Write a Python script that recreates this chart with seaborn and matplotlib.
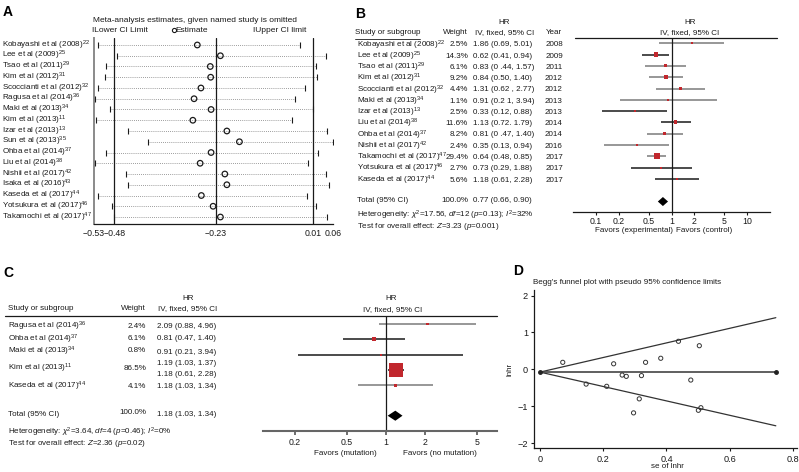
import numpy as np
import matplotlib
matplotlib.use('Agg')
import matplotlib.pyplot as plt
import seaborn as sns
from matplotlib.lines import Line2D
from matplotlib.transforms import blended_transform_factory

# ---- style ----
sns.set_theme(style='white')
plt.rcParams['font.family'] = ['Liberation Sans', 'DejaVu Sans']
plt.rcParams['mathtext.fontset'] = 'custom'
plt.rcParams['mathtext.rm'] = 'Liberation Sans'
plt.rcParams['mathtext.it'] = 'Liberation Sans:italic'
plt.rcParams['mathtext.bf'] = 'Liberation Sans:bold'

# =========================================
# Data
# =========================================

# A - influence analysis (study omitted)
a_studies = ['Kobayashi et al (2008)', 'Lee et al (2009)', 'Tsao et al (2011)', 'Kim et al (2012)',
             'Scoccianti et al (2012)', 'Ragusa et al (2014)', 'Maki et al (2013)', 'Kim et al (2013)',
             'Izar et al (2013)', 'Sun et al (2013)', 'Ohba et al (2014)', 'Liu et al (2014)',
             'Nishii et al (2017)', 'Isaka et al (2016)', 'Kaseda et al (2017)', 'Yotsukura et al (2017)',
             'Takamochi et al (2017)']
a_refs = [22, 25, 29, 31, 32, 36, 34, 11, 13, 35, 37, 38, 42, 43, 44, 46, 47]
a_lower = [-0.520, -0.474, -0.500, -0.504, -0.521, -0.528, -0.490, -0.524, -0.447, -0.397,
           -0.500, -0.528, -0.451, -0.445, -0.519, -0.486, -0.480]
a_est = [-0.275, -0.218, -0.243, -0.242, -0.266, -0.283, -0.241, -0.286, -0.202, -0.171,
         -0.241, -0.268, -0.207, -0.202, -0.265, -0.236, -0.218]
a_upper = [-0.022, 0.043, 0.018, 0.021, -0.009, -0.033, 0.011, -0.042, 0.044, 0.059,
           0.022, -0.002, 0.043, 0.049, -0.005, 0.019, 0.045]
a_ticks = [-0.53, -0.48, -0.23, 0.01, 0.06]

# B - overall forest plot
b_studies = ['Kobayashi et al (2008)', 'Lee et al (2009)', 'Tsao et al (2011)', 'Kim et al (2012)',
             'Scoccianti et al (2012)', 'Maki et al (2013)', 'Izar et al (2013)', 'Liu et al (2014)',
             'Ohba et al (2014)', 'Nishii et al (2017)', 'Takamochi et al (2017)',
             'Yotsukura et al (2017)', 'Kaseda et al (2017)']
b_refs = [22, 25, 29, 31, 32, 34, 13, 38, 37, 42, 47, 46, 44]
b_weight = [2.5, 14.3, 6.1, 9.2, 4.4, 1.1, 2.5, 11.6, 8.2, 2.4, 29.4, 2.7, 5.6]
b_hr = [1.86, 0.62, 0.83, 0.84, 1.31, 0.91, 0.33, 1.13, 0.81, 0.35, 0.64, 0.73, 1.18]
b_lo = [0.69, 0.41, 0.44, 0.50, 0.62, 0.21, 0.12, 0.72, 0.47, 0.13, 0.48, 0.29, 0.61]
b_hi = [5.01, 0.94, 1.57, 1.40, 2.77, 3.94, 0.88, 1.79, 1.40, 0.94, 0.85, 1.88, 2.28]
b_ci_text = ['1.86 (0.69, 5.01)', '0.62 (0.41, 0.94)', '0.83 (0 .44, 1.57)', '0.84 (0.50, 1.40)',
             '1.31 (0.62 , 2.77)', '0.91 (0.2 1, 3.94)', '0.33 (0.12, 0.88)', '1.13 (0.72. 1.79)',
             '0.81 (0 .47, 1.40)', '0.35 (0.13, 0.94)', '0.64 (0.48, 0.85)', '0.73 (0.29, 1.88)',
             '1.18 (0.61, 2.28)']
b_year = [2008, 2009, 2011, 2012, 2012, 2013, 2013, 2014, 2014, 2016, 2017, 2017, 2017]
b_total = [0.77, 0.66, 0.90]
b_ticks = [0.1, 0.2, 0.5, 1, 2, 5, 10]

# C - mutation subgroup forest plot
c_studies = ['Ragusa et al (2014)', 'Ohba et al (2014)', 'Maki et al (2013)', 'Kim et al (2013)',
             'Kaseda et al (2017)']
c_refs = [36, 37, 34, 11, 44]
c_weight = [2.4, 6.1, 0.8, 86.5, 4.1]
c_hr = [2.09, 0.81, 0.91, 1.19, 1.18]
c_lo = [0.88, 0.47, 0.21, 1.03, 0.61]
c_hi = [4.96, 1.40, 3.94, 1.37, 2.28]
c_ci_text = ['2.09 (0.88, 4.96)', '0.81 (0.47, 1.40)', '0.91 (0.21, 3.94)', '1.19 (1.03, 1.37)',
             '1.18 (0.61, 2.28)', '1.18 (1.03, 1.34)']
c_total = [1.18, 1.03, 1.34]
c_ticks = [0.2, 0.5, 1, 2, 5]

# D - Begg's funnel plot
d_se = [0.072, 0.146, 0.211, 0.233, 0.260, 0.273, 0.296, 0.314, 0.321, 0.334,
        0.382, 0.438, 0.477, 0.504, 0.501, 0.509]
d_lnhr = [0.19, -0.40, -0.46, 0.15, -0.155, -0.19, -1.18, -0.80, -0.17, 0.19,
          0.30, 0.76, -0.29, 0.64, -1.11, -1.04]
d_line_se = [0.0, 0.746]
d_pooled = [-0.075, -0.075]
d_upper = [-0.075, 1.40]
d_lower = [-0.075, -1.53]

# =========================================
# Figure helpers (pixel layout)
# =========================================

W, H = 799, 472
fig = plt.figure(figsize=(W / 100, H / 100), dpi=100)

FS = 5.8
RED = '#c1272d'
GREY = '#7a7a7a'
DARK = '#1a1a1a'


def px_axes(l, t, r, b):
    return fig.add_axes([l / W, 1 - b / H, (r - l) / W, (b - t) / H])


def ftext(x, y, s, **kw):
    kw.setdefault('fontsize', FS)
    kw.setdefault('va', 'center')
    kw.setdefault('color', DARK)
    return fig.text(x / W, 1 - y / H, s, **kw)


def fline(x1, x2, y1, y2, **kw):
    fig.add_artist(Line2D([x1 / W, x2 / W], [1 - y1 / H, 1 - y2 / H],
                          transform=fig.transFigure, **kw))


def label(name, ref):
    return name + r'$^{' + str(ref) + '}$'


# =========================================
# A. Sensitivity analysis
# =========================================

ftext(3, 12, 'A', fontsize=10, fontweight='bold', color='black')
axA = px_axes(94, 38, 333, 224)
rows_a = np.arange(len(a_studies))

for i in rows_a:
    axA.plot([a_lower[i], a_upper[i]], [i, i], ls=(0, (1, 1.5)), lw=0.6, color='#7d7d7d')
axA.scatter(a_lower, rows_a, marker='|', s=18, color=DARK, linewidths=0.8, zorder=3)
axA.scatter(a_upper, rows_a, marker='|', s=18, color=DARK, linewidths=0.8, zorder=3)
sns.scatterplot(x=a_est, y=rows_a, ax=axA, marker='o', s=16, facecolors='none',
                edgecolors=DARK, linewidths=0.9, zorder=4)
for v in a_ticks[1:4]:
    axA.axvline(v, color=DARK, lw=0.9)

axA.set_xlim(-0.53, 0.06)
axA.set_ylim(len(a_studies) - 1 + 0.65, -0.65)
axA.set_xticks(a_ticks)
axA.set_xticklabels([f'{v:.2f}'.replace('-', '\u2212') for v in a_ticks], fontsize=FS + 0.5)
axA.set_yticks([])
axA.tick_params(axis='x', length=2, pad=1.5, colors=DARK)
for s in ['top', 'right']:
    axA.spines[s].set_visible(False)
axA.spines['left'].set_color('#8a8a8a')
axA.spines['left'].set_linewidth(1.4)
axA.spines['bottom'].set_color(DARK)
axA.spines['bottom'].set_linewidth(0.9)

trA = blended_transform_factory(fig.transFigure, axA.transData)
for i, (n, r) in enumerate(zip(a_studies, a_refs)):
    axA.text(2 / W, i, label(n, r), transform=trA, fontsize=FS, va='center', color=DARK)

ftext(93, 20, 'Meta-analysis estimates, given named study is omitted', fontsize=FS + 0.2)
ftext(92, 31, 'ILower CI Limit', fontsize=FS + 0.2)
axA.plot([173.5 / W], [1 - 29.5 / H], marker='o', ms=3, mfc='none', mec=DARK, mew=0.8,
         transform=fig.transFigure, clip_on=False)
ftext(175, 31, 'Estimate', fontsize=FS + 0.2)
ftext(253, 31, 'IUpper CI limit', fontsize=FS + 0.2)

# =========================================
# B. Overall forest plot
# =========================================

ftext(355, 14, 'B', fontsize=10, fontweight='bold', color='black')
b_rows = np.arange(len(b_studies))
b_total_row = len(b_studies) + 1
axB = px_axes(573, 38, 770, 211.7)
axB.set_xscale('log')
axB.set_xlim(0.05, 20)
axB.set_ylim(b_total_row + 0.9, -0.47)

b_line_col = [GREY, DARK, GREY, GREY, GREY, GREY, DARK, DARK, GREY, GREY, GREY, DARK, DARK]
for i in b_rows:
    axB.plot([b_lo[i], b_hi[i]], [i, i], color=b_line_col[i], lw=1.1, solid_capstyle='butt')
b_side = [max(2.0, 1.15 * np.sqrt(w)) * 0.72 for w in b_weight]
axB.scatter(b_hr, b_rows, marker='s', s=[v ** 2 for v in b_side], color=RED, linewidths=0, zorder=3)
axB.axvline(1, color=DARK, lw=0.9)
hr, lo, hi = b_total
axB.fill([lo, hr, hi, hr], [b_total_row, b_total_row - 0.4, b_total_row, b_total_row + 0.4],
         color='black', lw=0)

axB.set_xticks(b_ticks)
axB.set_xticklabels([f'{v:g}' for v in b_ticks], fontsize=FS + 0.5)
axB.minorticks_off()
axB.set_yticks([])
axB.tick_params(axis='x', direction='out', length=2.5, width=0.8, pad=1.5, colors=DARK, bottom=True)
for s in ['top', 'right', 'left']:
    axB.spines[s].set_visible(False)
axB.spines['bottom'].set_color(DARK)
axB.spines['bottom'].set_linewidth(0.9)

fline(575, 777, 38, 38, color=DARK, lw=0.9)
fline(355, 420, 38.5, 38.5, color=DARK, lw=0.6)

ftext(504, 22, 'HR', ha='center')
ftext(690, 22, 'HR', ha='center')
ftext(355, 33, 'Study or subgroup')
ftext(468, 33, 'Weight', ha='right')
ftext(505, 33, 'IV, fixed, 95% CI', ha='center')
ftext(554, 33, 'Year', ha='center')
ftext(690, 33, 'IV, fixed, 95% CI', ha='center')

# table rows sit slightly lower than the plotted rows in the reference
for i in b_rows:
    yy = 45 + 11.25 * i
    ftext(357, yy, label(b_studies[i], b_refs[i]))
    ftext(468, yy, f'{b_weight[i]:.1f}%', ha='right')
    ftext(473, yy, b_ci_text[i])
    ftext(554, yy, str(b_year[i]), ha='center')
ftext(357, 201, 'Total (95% CI)')
ftext(468, 201, '100.0%', ha='right')
ftext(473, 201, f'{hr:.2f} ({lo:.2f}, {hi:.2f})')
ftext(357, 215, r'Heterogeneity: $\chi^2$=17.56, $df$=12 ($p$=0.13); $I^2$=32%')
ftext(357, 226, r'Test for overall effect: $Z$=3.23 ($p$=0.001)')
ftext(673, 230, 'Favors (experimental)', ha='right')
ftext(676, 230, 'Favors (control)', ha='left')

# =========================================
# C. Subgroup forest plot
# =========================================

ftext(3, 273, 'C', fontsize=10, fontweight='bold', color='black')
c_rows = np.arange(len(c_studies))
c_total_row = len(c_studies) + 1
axC = px_axes(263.3, 316, 496.7, 431)
axC.set_xscale('log')
axC.set_xlim(0.114, 7.1)
axC.set_ylim(c_total_row + 1.0, -0.52)

c_line_col = [GREY, DARK, DARK, DARK, GREY]
for i in c_rows:
    axC.plot([c_lo[i], c_hi[i]], [i, i], color=c_line_col[i], lw=1.1, solid_capstyle='butt')
c_side = [max(2.0, 1.5 * np.sqrt(w)) * 0.72 for w in c_weight]
axC.scatter(c_hr, c_rows, marker='s', s=[v ** 2 for v in c_side], color=RED, linewidths=0, zorder=3)
axC.axvline(1, color=DARK, lw=0.9)
hr, lo, hi = c_total
axC.fill([lo, hr, hi, hr], [c_total_row, c_total_row - 0.33, c_total_row, c_total_row + 0.33],
         color='black', lw=0)

axC.set_xticks(c_ticks)
axC.set_xticklabels([f'{v:g}' for v in c_ticks], fontsize=FS + 0.5)
axC.minorticks_off()
axC.set_yticks([])
axC.tick_params(axis='x', direction='out', length=3, width=1.2, pad=2, colors='#555555',
                labelcolor=DARK, bottom=True)
for s in ['top', 'right', 'left']:
    axC.spines[s].set_visible(False)
axC.spines['bottom'].set_color('#666666')
axC.spines['bottom'].set_linewidth(1.5)

fline(5, 497, 316, 316, color=DARK, lw=0.9)

ftext(188, 299, 'HR', ha='center')
ftext(391, 299, 'HR', ha='center')
ftext(8, 309, 'Study or subgroup')
ftext(146, 309, 'Weight', ha='right')
ftext(188, 309, 'IV, fixed, 95% CI', ha='center')
ftext(393, 310, 'IV, fixed, 95% CI', ha='center')

c_name_y = [326.7, 339, 351, 368.3, 386.7]
c_ci_y = [326.7, 339, 352.7, 363.3, 375, 386.7]
for i in c_rows:
    ftext(8, c_name_y[i], label(c_studies[i], c_refs[i]))
    ftext(146, c_name_y[i], f'{c_weight[i]:.1f}%', ha='right')
for t, yy in zip(c_ci_text, c_ci_y):
    ftext(157, yy, t)
ftext(8, 414.3, 'Total (95% CI)')
ftext(146, 412.7, '100.0%', ha='right')
ftext(157, 414.3, f'{hr:.2f} ({lo:.2f}, {hi:.2f})')
ftext(8, 432.5, r'Heterogeneity: $\chi^2$=3.64, $df$=4 ($p$=0.46); $I^2$=0%')
ftext(8, 443.5, r'Test for overall effect: $Z$=2.36 ($p$=0.02)')
ftext(345, 453.3, 'Favors (mutation)', ha='center')
ftext(440, 453.3, 'Favors (no mutation)', ha='center')

# =========================================
# D. Begg's funnel plot
# =========================================

ftext(513, 271, 'D', fontsize=10, fontweight='bold', color='black')
axD = px_axes(534.3, 290, 797, 448.3)
axD.plot(d_line_se, d_upper, color='#333333', lw=0.9)
axD.plot(d_line_se, d_lower, color='#333333', lw=0.9)
axD.plot(d_line_se, d_pooled, color='#444444', lw=1.2, marker='o', ms=2.5,
         mfc='#222222', mec='#222222')
sns.scatterplot(x=d_se, y=d_lnhr, ax=axD, marker='o', s=9, facecolors='none',
                edgecolors='#333333', linewidths=0.7, zorder=4)
axD.set_xlim(-0.018, 0.813)
axD.set_ylim(-2.14, 2.15)
axD.set_xticks([0, 0.2, 0.4, 0.6, 0.8])
axD.set_xticklabels(['0', '0.2', '0.4', '0.6', '0.8'], fontsize=FS + 0.8)
axD.set_yticks([-2, -1, 0, 1, 2])
axD.set_yticklabels(['\u22122', '\u22121', '0', '1', '2'], fontsize=FS + 0.8)
axD.tick_params(direction='out', length=2.5, width=0.8, pad=2, colors=DARK, left=True, bottom=True)
for s in ['top', 'right']:
    axD.spines[s].set_visible(False)
for s in ['left', 'bottom']:
    axD.spines[s].set_color(DARK)
    axD.spines[s].set_linewidth(0.9)
axD.set_xlabel('')
axD.set_ylabel('')
ftext(533, 282.7, "Begg's funnel plot with pseudo 95% confidence limits")
ftext(510, 369, 'lnhr', rotation=90, ha='center')
ftext(667, 466, 'se of lnhr', ha='center')

fig.savefig('out.png', dpi=100)
